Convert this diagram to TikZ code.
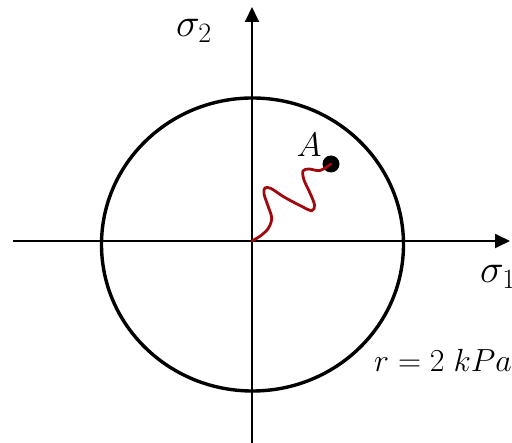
\documentclass[tikz,border=0pt]{standalone}
\usepackage{fix-cm}
\usepackage{amsmath}
\usetikzlibrary{arrows.meta}
\definecolor{wavered}{RGB}{160,8,14}

\begin{document}
\begin{tikzpicture}[x=1pt, y=-1pt, >={Triangle[length=15pt,width=14pt]},
    axis/.style={->, line width=1.9pt},
    lbl/.style={inner sep=0pt, font=\fontsize{40}{44}\selectfont}]
  \useasboundingbox (0,0) rectangle (512,443);
  \clip (0,0) rectangle (512,443);

  % axes
  \coordinate (O) at (252,241);
  \coordinate (xL) at (13,241);
  \coordinate (xR) at (510,241);
  \coordinate (yB) at (252,443);
  \coordinate (yT) at (252,7);
  \draw[axis] (xL) -- (xR);
  \draw[axis] (yB) -- (yT);

  % axis labels (sigma_1 runs off the right edge)
  \node[lbl, anchor=base west] (s1) at (480,283) {$\sigma_1$};
  \node[lbl, anchor=base west] (s2) at (176,37) {$\sigma_2$};

  % yield circle
  \draw[line width=3.4pt] (252.5,244.5) ellipse [x radius=151pt, y radius=146.5pt];
  \node[lbl, anchor=base west, font=\fontsize{32}{35}\selectfont] (rad) at (374,372) {$r = 2\;kPa$};

  % stress point A
  \node[circle, fill, inner sep=0pt, minimum size=17pt] (A) at (331,164) {};
  \node[lbl, font=\fontsize{34}{38}\selectfont] (Alab) at (309,145) {$A$};

  % loading path: origin -> A
  \draw[wavered, line width=2.8pt, line cap=round]
    plot[smooth, tension=0.55] coordinates {(O) (261,235.5) (268.5,228) (271.7,218)
      (268,206) (264,194) (265,188) (271,188.5) (284,197) (300,205.5)
      (311.7,210.7) (314.5,205) (310,193) (304,180) (303,171) (309,169)
      (320,170.5) (A)};
\end{tikzpicture}
\end{document}
